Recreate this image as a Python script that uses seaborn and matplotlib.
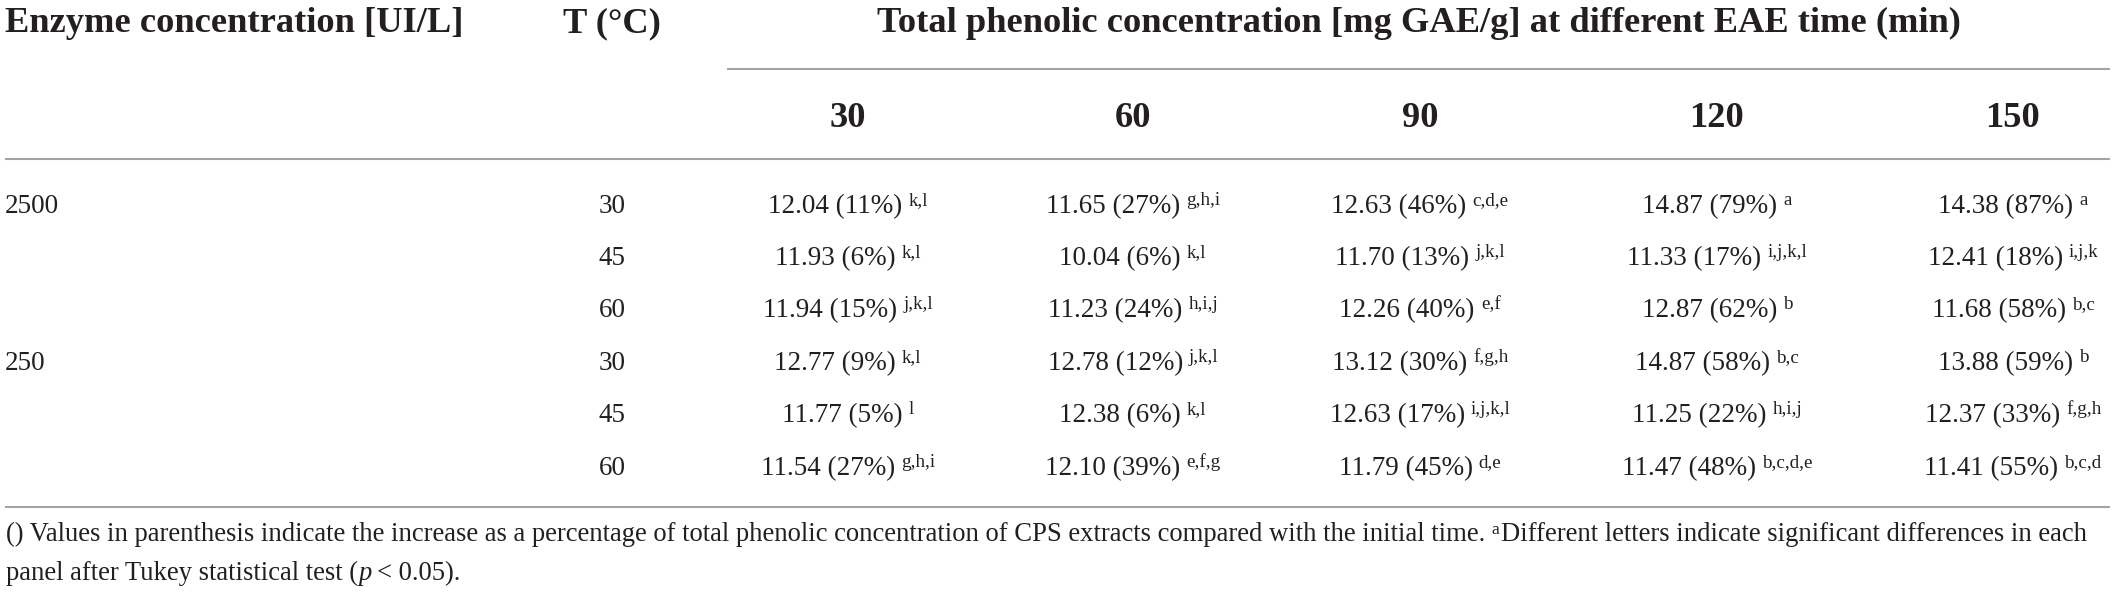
import numpy as np
import pandas as pd
import matplotlib
matplotlib.use("Agg")
import matplotlib.pyplot as plt
import seaborn as sns

# ---------------- data ----------------
enzyme_levels = ["2500", "250"]
temperatures = [30, 45, 60]
times = [30, 60, 90, 120, 150]

values_2500 = [
    [12.04, 11.65, 12.63, 14.87, 14.38],
    [11.93, 10.04, 11.70, 11.33, 12.41],
    [11.94, 11.23, 12.26, 12.87, 11.68],
]
values_250 = [
    [12.77, 12.78, 13.12, 14.87, 13.88],
    [11.77, 12.38, 12.63, 11.25, 12.37],
    [11.54, 12.10, 11.79, 11.47, 11.41],
]
pct_2500 = [
    [11, 27, 46, 79, 87],
    [6, 6, 13, 17, 18],
    [15, 24, 40, 62, 58],
]
pct_250 = [
    [9, 12, 30, 58, 59],
    [5, 6, 17, 22, 33],
    [27, 39, 45, 48, 55],
]
letters_2500 = [
    ["k,l", "g,h,i", "c,d,e", "a", "a"],
    ["k,l", "k,l", "j,k,l", "i,j,k,l", "i,j,k"],
    ["j,k,l", "h,i,j", "e,f", "b", "b,c"],
]
letters_250 = [
    ["k,l", "j,k,l", "f,g,h", "b,c", "b"],
    ["l", "k,l", "i,j,k,l", "h,i,j", "f,g,h"],
    ["g,h,i", "e,f,g", "d,e", "b,c,d,e", "b,c,d"],
]

header_enzyme = "Enzyme concentration [UI/L]"
header_temp = "T (°C)"
header_tpc = "Total phenolic concentration [mg GAE/g] at different EAE time (min)"
foot_1a = ("() Values in parenthesis indicate the increase as a percentage of total "
           "phenolic concentration of CPS extracts compared with the initial time.")
foot_1b = "a"
foot_1c = "Different letters indicate significant differences in each"
foot_2a = "panel after Tukey statistical test ("
foot_2b = "p"
foot_2c = "< 0.05)."

# long-form table
rows = []
for enz, vals, pcts, lets in [("2500", values_2500, pct_2500, letters_2500),
                              ("250", values_250, pct_250, letters_250)]:
    for i, T in enumerate(temperatures):
        for j, t in enumerate(times):
            rows.append(dict(enzyme=enz, T=T, time=t, value=vals[i][j],
                             pct=pcts[i][j], letters=lets[i][j]))
df = pd.DataFrame(rows)

# ---------------- style ----------------
sns.set_theme(style="white")
plt.rcParams["font.family"] = ["Liberation Serif", "DejaVu Serif"]
TXT = "#231f20"
RULE = "#a3a3a3"

W, H = 2117, 598
fig = plt.figure(figsize=(W / 100, H / 100), dpi=100)
ax = fig.add_axes([0, 0, 1, 1])
ax.set_xlim(0, W)
ax.set_ylim(H, 0)
ax.axis("off")
renderer = fig.canvas.get_renderer()


def width_of(s, size, weight="normal", style="normal"):
    t = ax.text(0, 0, s, fontsize=size, fontweight=weight, fontstyle=style)
    w = t.get_window_extent(renderer).width
    t.remove()
    return w


def fit_size(s, target, weight="normal"):
    return 10 * target / width_of(s, 10, weight)


def runs(x, y, items, ha="left"):
    arts = []
    cur = x
    for (s, size, weight, style, dy, gap) in items:
        t = ax.text(cur, y + dy, s, fontsize=size, fontweight=weight,
                    fontstyle=style, ha="left", va="baseline", color=TXT)
        cur += t.get_window_extent(renderer).width + gap
        arts.append(t)
    total = cur - x - items[-1][5]
    shift = {"left": 0, "center": -total / 2, "right": -total}[ha]
    for t in arts:
        px, py = t.get_position()
        t.set_position((px + shift, py))
    return arts


# sizes
fs_head = fit_size(header_enzyme, 459, "bold")
fs_body = fit_size("12.04 (11%)", 135)
fs_sup = fs_body * 0.7
fs_foot = fit_size(foot_1a + " " + foot_1c + " a", 2100)

# column centres (pixel axis)
col_x = [848, 1133, 1420, 1717, 2013]
t_x = 612
enz_x = 5
row_y = [213, 265, 317, 370, 422, 475]

# rules
ax.hlines(69, 727, 2110, color=RULE, lw=1.5)
ax.hlines([159, 507], 5, 2110, color=RULE, lw=1.5)

# header row 1
ax.text(enz_x, 32, header_enzyme, fontsize=fs_head, fontweight="bold",
        ha="left", va="baseline", color=TXT)
ax.text(t_x, 32, header_temp, fontsize=fs_head, fontweight="bold",
        ha="center", va="baseline", color=TXT)
ax.text((727 + 2110) / 2, 32, header_tpc, fontsize=fs_head, fontweight="bold",
        ha="center", va="baseline", color=TXT)

# header row 2
for x, t in zip(col_x, times):
    ax.text(x, 127, str(t), fontsize=fs_head, fontweight="bold",
            ha="center", va="baseline", color=TXT)

# body
for k, (enz, grp) in enumerate(df.groupby("enzyme", sort=False)):
    for i, T in enumerate(temperatures):
        y = row_y[k * 3 + i]
        if i == 0:
            ax.text(enz_x, y, enz, fontsize=fs_body, ha="left", va="baseline", color=TXT)
        ax.text(t_x, y, str(T), fontsize=fs_body, ha="center", va="baseline", color=TXT)
        sub = grp[grp["T"] == T].set_index("time")
        for x, t in zip(col_x, times):
            r = sub.loc[t]
            runs(x, y, [(f"{r['value']:.2f} ({r['pct']}%)", fs_body, "normal", "normal", 0, 6),
                        (r["letters"], fs_sup, "normal", "normal", -8, 0)], ha="center")

# footnote
runs(6, 541, [(foot_1a, fs_foot, "normal", "normal", 0, 6),
              (foot_1b, fs_foot * 0.65, "normal", "normal", -7, 2),
              (foot_1c, fs_foot, "normal", "normal", 0, 0)])
runs(6, 580, [(foot_2a, fs_foot, "normal", "normal", 0, 1),
              (foot_2b, fs_foot, "normal", "italic", 0, 5),
              (foot_2c, fs_foot, "normal", "normal", 0, 0)])

fig.savefig("out.png", dpi=100, facecolor="white")
